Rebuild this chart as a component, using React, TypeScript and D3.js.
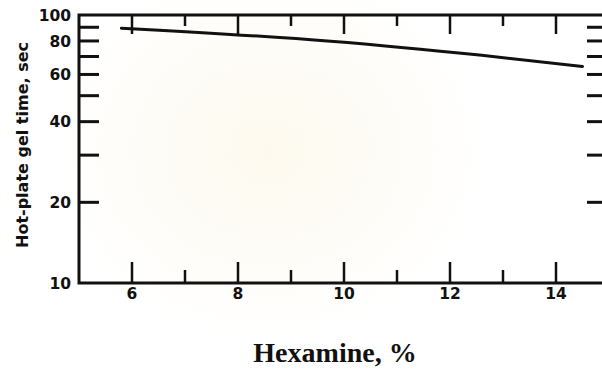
import React, { useRef, useEffect } from 'react';
import * as d3 from 'd3';

// values
const hexamine = [5.8, 9.75, 12.6, 14.5];
const gelTime = [89.3, 79.8, 70.7, 64.3];
const xTickValues = [6, 7, 8, 9, 10, 11, 12, 13, 14];
const xTickLabels = ['6', '8', '10', '12', '14'];
const yTickValues = [20, 30, 40, 50, 60, 70, 80, 90];
const yTickLabels = ['10', '20', '40', '60', '80', '100'];

const App: React.FC = () => {
    const svgRef = useRef<SVGSVGElement | null>(null);

    useEffect(() => {
        if (!svgRef.current) return;
        const svg = d3.select(svgRef.current);
        svg.selectAll("*").remove();

        const W = 602, H = 373;
        const margin = { top: 15, left: 79 };
        const plotW = 530, plotH = 268;
        const ink = "#111";

        svg.attr("width", W).attr("height", H);
        svg.append("rect").attr("width", W).attr("height", H).attr("fill", "#fff");

        // very faint watermark tone of the scan
        const grad = svg.append("defs").append("radialGradient").attr("id", "wm");
        grad.append("stop").attr("offset", "0%").attr("stop-color", "#fdf9ee");
        grad.append("stop").attr("offset", "100%").attr("stop-color", "#ffffff");
        svg.append("ellipse").attr("cx", 268).attr("cy", 150).attr("rx", 220).attr("ry", 190)
            .attr("fill", "url(#wm)");

        const x = d3.scaleLinear().domain([5, 15]).range([0, plotW]);
        const y = d3.scaleLog().domain([10, 100]).range([plotH, 0]);

        const g = svg.append("g").attr("transform", `translate(${margin.left},${margin.top})`);

        // frame
        g.append("rect").attr("width", plotW).attr("height", plotH)
            .attr("fill", "none").attr("stroke", ink).attr("stroke-width", 3);

        // x ticks, bottom and top
        const isMajor = (d: number) => d % 2 === 0;
        g.selectAll(".xb").data(xTickValues).join("line")
            .attr("x1", d => x(d)).attr("x2", d => x(d))
            .attr("y1", plotH).attr("y2", d => plotH - (isMajor(d) ? 21 : 13))
            .attr("stroke", ink).attr("stroke-width", 2.5);
        g.selectAll(".xt").data(xTickValues).join("line")
            .attr("x1", d => x(d)).attr("x2", d => x(d))
            .attr("y1", 0).attr("y2", d => (isMajor(d) ? 19 : 11))
            .attr("stroke", ink).attr("stroke-width", 2.5);

        g.selectAll(".xl").data(xTickLabels).join("text")
            .attr("x", d => x(+d)).attr("y", plotH + 16)
            .attr("text-anchor", "middle")
            .style("font-family", "'DejaVu Sans', sans-serif").style("font-weight", "bold")
            .style("font-size", "15.5px").attr("fill", ink)
            .text(d => d);

        // y ticks, left and right
        g.selectAll(".yl").data(yTickValues).join("line")
            .attr("x1", 0).attr("x2", 20)
            .attr("y1", d => y(d)).attr("y2", d => y(d))
            .attr("stroke", ink).attr("stroke-width", 3);
        g.selectAll(".yr").data(yTickValues).join("line")
            .attr("x1", plotW).attr("x2", plotW - 22)
            .attr("y1", d => y(d)).attr("y2", d => y(d))
            .attr("stroke", ink).attr("stroke-width", 3);

        g.selectAll(".ylab").data(yTickLabels).join("text")
            .attr("x", -8).attr("y", d => y(+d)).attr("dy", "0.36em")
            .attr("text-anchor", "end")
            .style("font-family", "'DejaVu Sans', sans-serif").style("font-weight", "bold")
            .style("font-size", "15.5px").attr("fill", ink)
            .text(d => d);

        // data line
        const pts = hexamine.map((h, i) => [h, gelTime[i]] as [number, number]);
        const line = d3.line<[number, number]>()
            .x(d => x(d[0])).y(d => y(d[1]))
            .curve(d3.curveMonotoneX);
        g.append("path").attr("d", line(pts))
            .attr("fill", "none").attr("stroke", ink).attr("stroke-width", 3)
            .attr("stroke-linecap", "round");

        // axis titles
        svg.append("text")
            .attr("transform", `translate(28,145) rotate(-90)`)
            .attr("text-anchor", "middle")
            .style("font-family", "'DejaVu Sans', sans-serif").style("font-weight", "bold")
            .style("font-size", "16px").attr("fill", ink)
            .text("Hot-plate gel time, sec");

        svg.append("text")
            .attr("x", 335).attr("y", 362)
            .attr("text-anchor", "middle")
            .style("font-family", "'Liberation Serif', 'Times New Roman', serif").style("font-weight", "bold")
            .style("font-size", "28px").attr("fill", ink)
            .text("Hexamine, %");
    }, []);

    return (
        <div style={{ position: 'absolute', left: 0, top: 0 }}>
            <svg ref={svgRef} style={{ display: 'block' }}></svg>
        </div>
    );
};

export default App;
